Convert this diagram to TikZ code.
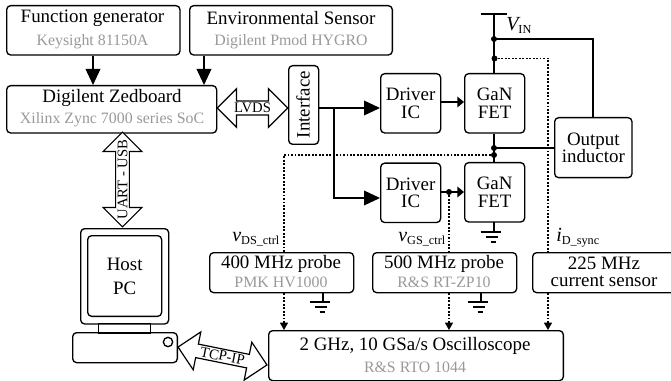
\documentclass[tikz,border=0pt]{standalone}
\usepackage{fontspec}
\setmainfont{Liberation Serif}
\usetikzlibrary{arrows.meta,shapes.arrows}

\definecolor{modelgray}{gray}{0.6}
\tikzset{
  blockbox/.style={draw,line width=1pt,rounded corners=3pt,align=center,inner sep=0pt,anchor=north west},
  bigarrow/.style={-{Triangle[length=12pt,width=11pt]},line width=1.1pt},
  smallarrow/.style={-{Triangle[length=5pt,width=8pt]},line width=1pt},
  probeline/.style={dash pattern=on 1.4pt off 1.2pt,line width=1pt},
  probearrow/.style={probeline,-{Triangle[length=5.5pt,width=6pt,sep=0pt]}},
  wire/.style={line width=1pt},
  junction/.style={circle,fill,inner sep=0pt,minimum size=4.5pt},
  widearrow/.style={draw,line width=0.9pt,fill=white,double arrow,double arrow head extend=7.5pt,
    double arrow tip angle=90,minimum height=#1,minimum width=29pt,inner sep=0pt,font=\fontsize{11}{12}\selectfont},
  model/.style={text=modelgray,font=\fontsize{11.9}{13}\selectfont},
  maintext/.style={font=\fontsize{14.2}{15}\selectfont},
  siglabel/.style={font=\fontsize{14}{14}\selectfont,inner sep=0pt},
}
\newcommand{\gndsym}[1]{%
  \draw[wire] (#1) -- ++(0,10);
  \draw[wire] ([xshift=-10]#1) ++(0,10) -- ++(20,0);
  \draw[wire] ([xshift=-6]#1) ++(0,15) -- ++(12,0);
  \draw[wire] ([xshift=-2.5]#1) ++(0,20) -- ++(5,0);
}
\newcommand{\sigtext}[2]{{\fontsize{15}{15}\selectfont\itshape #1}{\fontsize{9.2}{10}\selectfont\raisebox{-2pt}{#2}}}

\begin{document}
\begin{tikzpicture}[x=0.75pt,y=-0.75pt]
\useasboundingbox (0,0) rectangle (671,381);

% top row
\node[blockbox,minimum width=130pt,minimum height=37pt] (funcgen) at (6,5) {};
\node[maintext] (funcgentxt) at (92.5,18) {Function generator};
\node[model] (funcgenmod) at (92.5,42) {Keysight 81150A};
\node[blockbox,minimum width=152pt,minimum height=37pt] (envsens) at (189,5) {};
\node[maintext] (envsenstxt) at (291,18) {Environmental Sensor};
\node[model] (envsensmod) at (291,42) {Digilent Pmod HYGRO};
\node[blockbox,minimum width=157.5pt,minimum height=35.5pt] (zedboard) at (6,85) {};
\node[maintext] (zedtxt) at (112,98) {Digilent Zedboard};
\node[model] (zedmod) at (112,120) {Xilinx Zync 7000 series SoC};

\draw[bigarrow] (funcgen.south -| 93,0) -- (zedboard.north -| 93,0);
\draw[bigarrow] (envsens.south -| 204,0) -- (zedboard.north -| 204,0);

% power stage
\node[blockbox,minimum width=22.5pt,minimum height=59pt] (interface) at (288,65) {};
\node[maintext,rotate=90] (interfacetxt) at (303,104.5) {Interface};
\node[blockbox,minimum width=45pt,minimum height=44.5pt,maintext] (driverone) at (380,73) {Driver\\[-2pt]IC};
\node[blockbox,minimum width=45pt,minimum height=44.5pt,maintext] (fetone) at (464,73) {GaN\\[-2pt]FET};
\node[blockbox,minimum width=45pt,minimum height=44.5pt,maintext] (drivertwo) at (380,162.5) {Driver\\[-2pt]IC};
\node[blockbox,minimum width=45pt,minimum height=44.5pt,maintext] (fettwo) at (464,162) {GaN\\[-2pt]FET};
\node[blockbox,minimum width=58pt,minimum height=45pt,maintext] (inductor) at (554,117) {Output\\[-2pt]inductor};

\node[widearrow=53pt] (lvds) at (252.5,108) {LVDS};
\node[widearrow=71pt,rotate=90] (uart) at (122.5,179.5) {UART - USB};

\coordinate (vin) at (494,14);
\coordinate (vinjunc) at (494,39);
\coordinate (syncjunc) at (494.5,58.5);
\coordinate (midjunc) at (494,148);
\coordinate (vdsjunc) at (494,155);
\coordinate (branch) at (334,108);
\coordinate (vgsjunc) at (449,192);

\draw[wire] ([xshift=-10]vin) -- ([xshift=10]vin);
\draw[wire] (vin) -- (fetone.north -| vin);
\draw[wire] (vinjunc) -| (inductor.north -| 593,0);
\draw[wire] (fetone.south -| midjunc) -- (fettwo.north -| midjunc);
\draw[wire] (midjunc) -- (inductor.west |- midjunc);
\node[junction] (vinjuncdot) at (vinjunc) {};
\node[junction] (syncdot) at (syncjunc) {};
\node[junction] (middot) at (midjunc) {};
\node[junction] (vdsdot) at (vdsjunc) {};
\node[junction] (vgsdot) at (vgsjunc) {};

\draw[bigarrow] (interface.east |- branch) -- (driverone.west |- branch);
\draw[bigarrow] (branch) |- (drivertwo.west |- 0,198);
\draw[smallarrow] (driverone.east |- 0,102) -- (fetone.west |- 0,102);
\draw[smallarrow] (drivertwo.east |- vgsjunc) -- (fettwo.west |- vgsjunc);

% probes and scope
\node[blockbox,minimum width=108pt,minimum height=30pt] (probeone) at (209,252) {};
\node[maintext] (probeonetxt) at (281,263.5) {400 MHz probe};
\node[model] (probeonemod) at (281,282) {PMK HV1000};
\node[blockbox,minimum width=108pt,minimum height=30pt] (probetwo) at (372,252) {};
\node[maintext] (probetwotxt) at (444,263.5) {500 MHz probe};
\node[model] (probetwomod) at (444,282) {R\&S RT-ZP10};
\node[blockbox,minimum width=108pt,minimum height=30pt] (sensor) at (532,252) {};
\node[maintext,align=center,inner sep=0pt] (sensortxt) at (604,272) {225 MHz\\[-2pt]current sensor};
\node[blockbox,minimum width=221pt,minimum height=37.5pt] (scope) at (268,330) {};
\node[maintext] (scopetxt) at (415,346) {2 GHz, 10 GSa/s Oscilloscope};
\node[model] (scopemod) at (415,367) {R\&S RTO 1044};

\draw[probeline] (syncdot.center) -| (sensor.north -| 548,0);
\draw[probeline] (vdsdot.center) -| (probeone.north -| 284,0);
\draw[probeline] (vgsdot.center) -- (probetwo.north -| vgsdot);
\draw[probearrow] (probeone.south -| 284,0) -- (scope.north -| 284,0);
\draw[probearrow] (probetwo.south -| vgsdot) -- (scope.north -| vgsdot);
\draw[probearrow] (sensor.south -| 548,0) -- (scope.north -| 548,0);

\coordinate (gndfet) at (494,222);
\coordinate (gndone) at (323,292);
\coordinate (gndtwo) at (481,292);
\gndsym{gndfet}
\gndsym{gndone}
\gndsym{gndtwo}

\node[siglabel,anchor=base west] (vds) at (232,241.5) {\sigtext{v}{DS\_ctrl}};
\node[siglabel,anchor=base west] (vgs) at (398,241.5) {\sigtext{v}{GS\_ctrl}};
\node[siglabel,anchor=base west] (idsync) at (556,241.5) {\sigtext{i}{D\_sync}};
\node[siglabel,anchor=base west] (vinlabel) at (506,31) {\sigtext{V}{IN}};

% host computer
\node[blockbox,minimum width=66pt,minimum height=71.5pt] (monitor) at (80,228) {};
\node[blockbox,minimum width=55.5pt,minimum height=60.5pt,maintext] (screen) at (87,235) {Host\\[3pt]PC};
\node[blockbox,rounded corners=0pt,minimum width=39pt,minimum height=7pt] (neck) at (98,323) {};
\node[blockbox,minimum width=78.5pt,minimum height=22.5pt] (tower) at (72,332) {};
\node[draw,circle,line width=1pt,minimum size=7pt,inner sep=0pt] (button) at (168,342) {};

\node[widearrow=68pt,rotate=-11.4] (tcpip) at (222.5,356) {TCP-IP};
\end{tikzpicture}
\end{document}
